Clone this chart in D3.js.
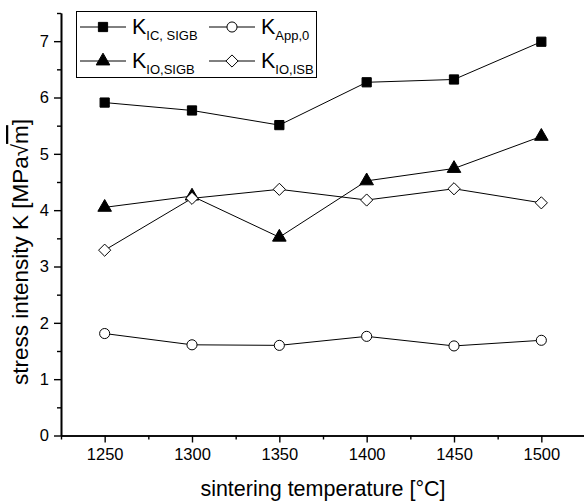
<!DOCTYPE html>
<html><head><meta charset="utf-8">
<script src="https://cdn.jsdelivr.net/npm/d3@7"></script>
<style>body{margin:0;background:#fff}svg{display:block}text{font-family:"Liberation Sans",Arial,sans-serif}</style>
</head><body><svg id="c" width="584" height="502"></svg>
<script>
const temps = [1250, 1300, 1350, 1400, 1450, 1500];
const kicSigb = [5.91, 5.77, 5.51, 6.27, 6.32, 6.99];
const kApp0   = [1.81, 1.61, 1.60, 1.76, 1.59, 1.69];
const kioSigb = [4.05, 4.25, 3.52, 4.52, 4.74, 5.31];
const kioIsb  = [3.29, 4.21, 4.37, 4.18, 4.38, 4.13];
const xTicks = [1250, 1300, 1350, 1400, 1450, 1500];
const xMinor = [1225, 1275, 1325, 1375, 1425, 1475, 1525];
const yTicks = [0, 1, 2, 3, 4, 5, 6, 7];
const yMinor = [0.5, 1.5, 2.5, 3.5, 4.5, 5.5, 6.5, 7.5];

const svg = d3.select("#c");
const x = d3.scaleLinear().domain([1225, 1525]).range([61, 585]);
const y = d3.scaleLinear().domain([0, 7.5]).range([435.5, 13]);

// axes
const gx = svg.append("g").attr("transform", "translate(0,435.5)");
gx.call(d3.axisBottom(x).tickValues(xTicks).tickSize(7).tickSizeOuter(0).tickPadding(6).tickFormat(d3.format("d")));
const gxm = svg.append("g").attr("transform", "translate(0,435.5)");
gxm.call(d3.axisBottom(x).tickValues(xMinor).tickSize(4).tickSizeOuter(0).tickFormat(""));
const gy = svg.append("g").attr("transform", "translate(61,0)");
gy.call(d3.axisLeft(y).tickValues(yTicks).tickSize(7).tickSizeOuter(0).tickPadding(5).tickFormat(d3.format("d")));
const gym = svg.append("g").attr("transform", "translate(61,0)");
gym.call(d3.axisLeft(y).tickValues(yMinor).tickSize(4).tickSizeOuter(0).tickFormat(""));
svg.selectAll(".domain").attr("stroke", "#000").attr("stroke-width", 1.6);
svg.selectAll(".tick line").attr("stroke", "#000").attr("stroke-width", 1.4);
svg.selectAll(".tick text").attr("font-size", 16.5).attr("fill", "#000").style("font-family", '"Liberation Sans",Arial,sans-serif');

// axis titles
svg.append("text").attr("x", 323).attr("y", 496).attr("text-anchor", "middle")
  .attr("font-size", 21.5).text("sintering temperature [°C]");
const yt = svg.append("text").attr("transform", "translate(28,252) rotate(-90)").attr("text-anchor", "middle")
  .attr("font-size", 22.5);
yt.append("tspan").text("stress intensity K [MPa√");
yt.append("tspan").style("text-decoration", "overline").text("m");
yt.append("tspan").text("]");

const diamondSym = {draw(ctx, size) { const r = Math.sqrt(size / 2); ctx.moveTo(0, -r); ctx.lineTo(r, 0); ctx.lineTo(0, r); ctx.lineTo(-r, 0); ctx.closePath(); }};

const series = [
  {vals: kicSigb, sym: d3.symbolSquare, size: 85, fill: "#000"},
  {vals: kApp0, sym: d3.symbolCircle, size: 80, fill: "#fff"},
  {vals: kioSigb, sym: d3.symbolTriangle, size: 80, fill: "#000"},
  {vals: kioIsb, sym: diamondSym, size: 74, fill: "#fff"}
];
const line = d3.line().x((d, i) => x(temps[i])).y(d => y(d));
series.forEach(s => {
  svg.append("path").attr("d", line(s.vals)).attr("fill", "none").attr("stroke", "#000").attr("stroke-width", 1);
});
series.forEach(s => {
  svg.append("g").selectAll("path").data(s.vals).join("path")
    .attr("transform", (d, i) => `translate(${x(temps[i])},${y(d)})`)
    .attr("d", d3.symbol().type(s.sym).size(s.size))
    .attr("fill", s.fill).attr("stroke", "#000").attr("stroke-width", 1);
});

// legend
const leg = svg.append("g");
leg.append("rect").attr("x", 76.5).attr("y", 11.5).attr("width", 240).attr("height", 66)
  .attr("fill", "#fff").attr("stroke", "#000").attr("stroke-width", 1);
const legItems = [
  {s: series[0], main: "K", sub: "IC, SIGB", lx: 80, ly: 27},
  {s: series[1], main: "K", sub: "App,0", lx: 209, ly: 27},
  {s: series[2], main: "K", sub: "IO,SIGB", lx: 80, ly: 61},
  {s: series[3], main: "K", sub: "IO,ISB", lx: 209, ly: 61}
];
legItems.forEach(it => {
  leg.append("line").attr("x1", it.lx).attr("x2", it.lx + 46).attr("y1", it.ly).attr("y2", it.ly)
    .attr("stroke", "#000").attr("stroke-width", 1);
  leg.append("path").attr("transform", `translate(${it.lx + 23},${it.ly})`)
    .attr("d", d3.symbol().type(it.s.sym).size(it.s.size)).attr("fill", it.s.fill).attr("stroke", "#000");
  const t = leg.append("text").attr("x", it.lx + 52).attr("y", it.ly + 7).attr("font-size", 21.5);
  t.append("tspan").text(it.main);
  t.append("tspan").attr("font-size", 13).attr("dy", 6).text(it.sub);
});
</script></body></html>
